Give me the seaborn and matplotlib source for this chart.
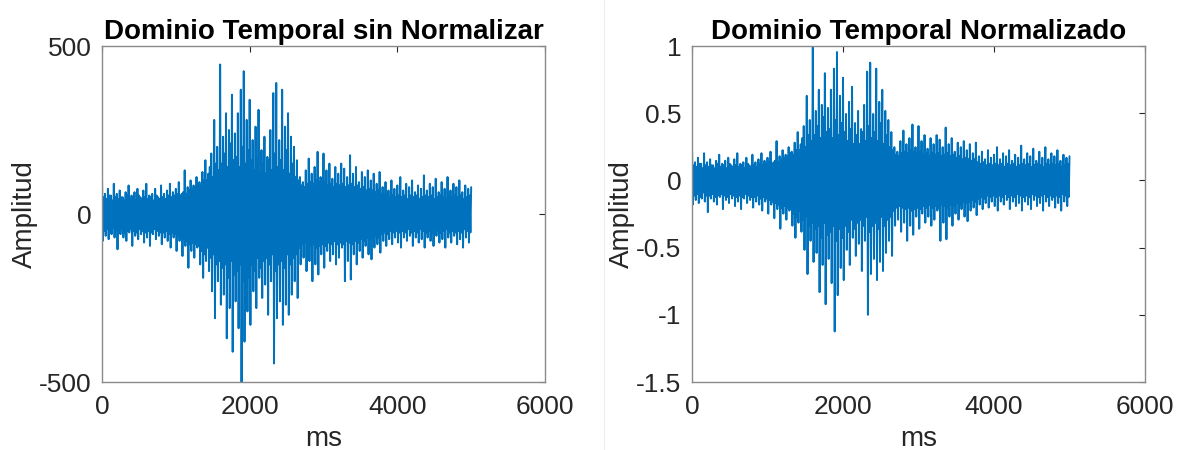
import numpy as np
import pandas as pd
import seaborn as sns
import matplotlib.pyplot as plt
from matplotlib.ticker import FormatStrFormatter

# # # SIGNAL # # #
# positive swings, one every 20 ms starting at 0 ms (one row = 200 ms)
upper_peaks = [110, 50, 60, 45, 75, 55, 55, 40, 90, 50,
               60, 45, 70, 50, 50, 40, 65, 55, 85, 45,
               55, 50, 65, 40, 75, 55, 50, 45, 70, 50,
               90, 45, 55, 50, 60, 40, 75, 55, 50, 45,
               85, 50, 60, 45, 70, 55, 90, 50, 65, 55,
               75, 60, 95, 55, 60, 65, 130, 60, 80, 70,
               100, 75, 85, 80, 110, 90, 95, 85, 125, 100,
               160, 100, 120, 140, 180, 110, 280, 150, 200, 130,
               445, 150, 230, 180, 300, 140, 250, 210, 355, 160,
               240, 170, 300, 140, 370, 200, 425, 150, 280, 190,
               340, 160, 220, 130, 260, 170, 310, 120, 190, 150,
               230, 120, 170, 160, 250, 130, 360, 180, 390, 140,
               220, 160, 370, 130, 260, 190, 300, 120, 230, 150,
               200, 110, 160, 100, 110, 85, 95, 80, 130, 90,
               165, 95, 120, 90, 140, 100, 185, 95, 110, 90,
               180, 95, 130, 85, 150, 90, 105, 80, 140, 90,
               120, 85, 150, 90, 135, 80, 110, 85, 175, 90,
               120, 80, 140, 85, 95, 75, 125, 80, 110, 70,
               130, 75, 100, 70, 120, 65, 90, 70, 125, 60,
               80, 55, 95, 60, 70, 50, 100, 55, 75, 50,
               85, 55, 110, 50, 70, 55, 90, 45, 80, 55,
               100, 50, 65, 55, 85, 45, 75, 50, 115, 55,
               70, 50, 90, 55, 80, 45, 105, 50, 65, 55,
               95, 50, 75, 45, 110, 55, 70, 50, 90, 55,
               80, 50, 100, 55, 65, 45, 85, 50, 75, 55,
               80]

# negative swings, one every 20 ms starting at 10 ms (one row = 200 ms)
lower_peaks = [-80, -50, -65, -45, -75, -55, -60, -40, -70, -50,
               -105, -50, -60, -45, -70, -55, -80, -50, -55, -45,
               -95, -50, -65, -55, -75, -45, -60, -50, -85, -55,
               -70, -50, -95, -55, -60, -45, -75, -50, -65, -55,
               -90, -55, -70, -50, -80, -60, -100, -55, -70, -60,
               -110, -65, -80, -70, -125, -75, -95, -80, -160, -90,
               -110, -85, -130, -90, -100, -95, -150, -110, -190, -120,
               -140, -100, -170, -130, -230, -120, -310, -150, -200, -140,
               -270, -160, -240, -150, -370, -190, -280, -140, -410, -180,
               -260, -170, -340, -150, -500, -200, -380, -160, -290, -190,
               -330, -150, -230, -170, -280, -130, -190, -160, -250, -140,
               -210, -130, -300, -150, -200, -120, -445, -170, -310, -150,
               -260, -140, -330, -160, -270, -120, -300, -150, -240, -130,
               -200, -120, -250, -100, -150, -90, -130, -85, -170, -90,
               -140, -95, -200, -90, -150, -100, -180, -95, -120, -90,
               -160, -95, -110, -85, -140, -90, -120, -80, -150, -90,
               -130, -85, -100, -90, -200, -80, -140, -85, -195, -90,
               -120, -80, -150, -85, -110, -75, -130, -80, -95, -70,
               -120, -75, -135, -70, -100, -65, -90, -70, -115, -60,
               -80, -55, -95, -60, -75, -50, -90, -55, -70, -50,
               -85, -55, -100, -50, -70, -55, -80, -45, -65, -55,
               -95, -50, -70, -55, -85, -45, -75, -50, -100, -55,
               -70, -50, -80, -55, -95, -45, -65, -50, -85, -55,
               -75, -50, -100, -45, -70, -55, -85, -50, -65, -55,
               -90, -50, -75, -55, -100, -45, -70, -50, -85, -55]

step_ms = 10

# interleave the swings into one trace
amp = []
for i in range(len(upper_peaks)):
    amp.append(upper_peaks[i])
    if i < len(lower_peaks):
        amp.append(lower_peaks[i])

signal_df = pd.DataFrame({"ms": np.arange(len(amp)) * step_ms, "amp": amp})
signal_df["amp_norm"] = signal_df["amp"] / signal_df["amp"].max()

# # # STYLE # # #
sns.set_style("white")
plt.rcParams['font.family'] = ['Liberation Sans', 'DejaVu Sans']
plt.rcParams['axes.unicode_minus'] = False

line_color = "#0072BD"
edge_color = "#8a8a8a"
text_color = "#262626"

fig = plt.figure(figsize=(11.77, 4.5), dpi=100)
ax1 = fig.add_axes([102/1177, 68/450, 443/1177, 336/450])
ax2 = fig.add_axes([692/1177, 68/450, 453/1177, 336/450])


def style_axes(ax, title):
    for s in ax.spines.values():
        s.set_color(edge_color)
        s.set_linewidth(1)
    ax.tick_params(direction="in", length=4, width=0.8, color=text_color,
                   labelsize=19, labelcolor=text_color, top=True, right=True)
    ax.tick_params(axis="x", pad=9.5)
    ax.tick_params(axis="y", pad=7.5)
    ax.set_title(title, fontsize=20, fontweight="bold", color="black", pad=5)
    ax.set_xlabel("ms", fontsize=20, color=text_color, labelpad=5)
    ax.set_ylabel("Amplitud", fontsize=20, color=text_color, labelpad=1)
    ax.set_xlim(0, 6000)
    ax.set_xticks([0, 2000, 4000, 6000])


sns.lineplot(data=signal_df, x="ms", y="amp", ax=ax1, color=line_color,
             linewidth=1.4, estimator=None)
style_axes(ax1, "Dominio Temporal sin Normalizar")
ax1.set_ylim(-500, 500)
ax1.set_yticks([-500, 0, 500])

sns.lineplot(data=signal_df, x="ms", y="amp_norm", ax=ax2, color=line_color,
             linewidth=1.4, estimator=None)
style_axes(ax2, "Dominio Temporal Normalizado")
ax2.set_ylim(-1.5, 1)
ax2.set_yticks([-1.5, -1, -0.5, 0, 0.5, 1])
ax2.yaxis.set_major_formatter(FormatStrFormatter("%g"))

# faint seam between the two panels
fig.add_artist(plt.Line2D([604/1177, 604/1177], [0, 1], color="#f0f0f0", linewidth=1))

plt.savefig("out.png", dpi=100)
